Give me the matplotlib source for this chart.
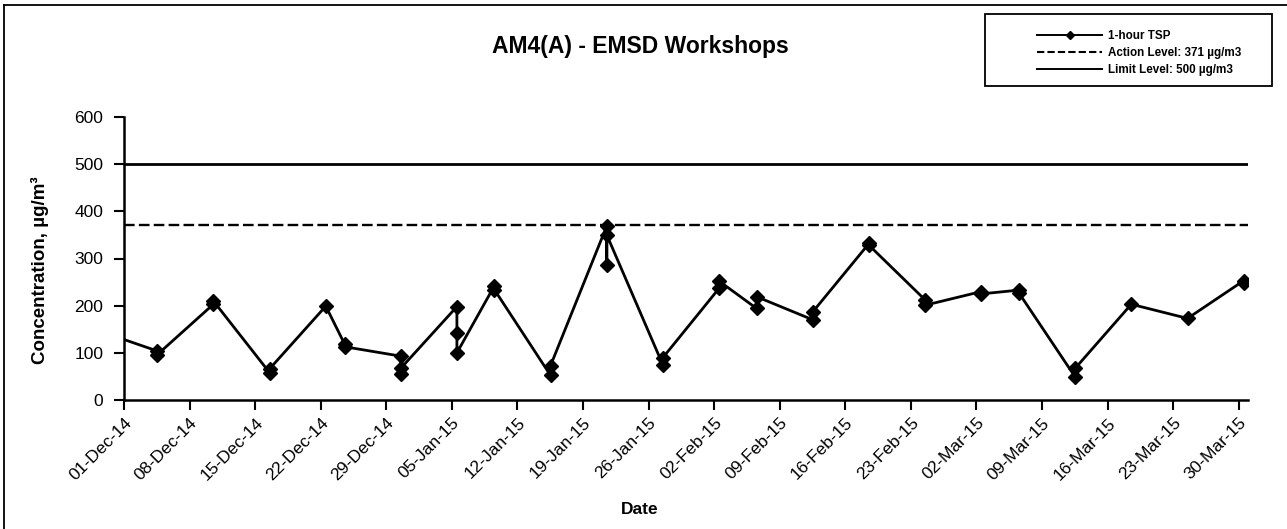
import matplotlib
matplotlib.use("Agg")
import matplotlib.pyplot as plt
import matplotlib.dates as mdates
from matplotlib.lines import Line2D
from matplotlib.patches import Rectangle
import pandas as pd

plt.rcParams['font.family'] = ['Liberation Sans', 'DejaVu Sans']

# ---- data ----
title = "AM4(A) - EMSD Workshops"
x_label = "Date"
y_label = "Concentration, µg/m³"
sampling_times = [
    "2014-11-28 13:00", "2014-12-04 13:00", "2014-12-10 13:00", "2014-12-16 13:00",
    "2014-12-22 13:00", "2014-12-24 13:00", "2014-12-30 13:00", "2015-01-05 13:00",
    "2015-01-09 13:00", "2015-01-15 13:00", "2015-01-21 13:00", "2015-01-27 13:00",
    "2015-02-02 13:00", "2015-02-06 13:00", "2015-02-12 13:00", "2015-02-18 13:00",
    "2015-02-24 13:00", "2015-03-02 13:00", "2015-03-06 13:00", "2015-03-12 13:00",
    "2015-03-18 13:00", "2015-03-24 13:00", "2015-03-30 13:00",
]
tsp_values = [
    [145], [104, 96], [203, 210], [58, 66],
    [199], [119, 113], [93, 55, 67], [198, 143, 100],
    [242, 234], [52, 73], [369, 286, 350], [74, 90],
    [237, 252], [194, 219], [170, 187], [332, 328],
    [212, 201], [230, 225], [233, 227], [49, 67],
    [203], [173], [253, 249],
]
action_level = 371
limit_level = 500
legend_labels = ["1-hour TSP", "Action Level: 371 µg/m3", "Limit Level: 500 µg/m3"]
x_start, x_end = "2014-12-01", "2015-03-31"
tick_dates = pd.date_range("2014-12-01", "2015-03-30", freq="7D")
y_ticks = [0, 100, 200, 300, 400, 500, 600]

# flatten grouped samples
xs, ys = [], []
for t, vals in zip(sampling_times, tsp_values):
    for v in vals:
        xs.append(pd.Timestamp(t))
        ys.append(v)

W, H = 1287, 529
fig = plt.figure(figsize=(W / 100, H / 100), dpi=100)
ax = fig.add_axes([124 / W, 1 - 400 / H, (1248 - 124) / W, (400 - 117) / H])

ax.plot(xs, ys, color="black", lw=2.0, marker="D", ms=7.5, mfc="black", mec="black", clip_on=True, zorder=3)
ax.axhline(action_level, color="black", lw=1.7, ls=(0, (4.5, 1.8)))
ax.axhline(limit_level, color="black", lw=2.0)

ax.set_xlim(pd.Timestamp(x_start), pd.Timestamp(x_end))
ax.set_ylim(0, 600)
ax.set_yticks(y_ticks)
ax.set_xticks(tick_dates)
ax.xaxis.set_major_formatter(mdates.DateFormatter("%d-%b-%y"))
for lab in ax.get_xticklabels():
    lab.set_rotation(45)
    lab.set_ha("right")
    lab.set_rotation_mode("anchor")

ax.tick_params(axis="both", direction="out", length=7, width=1.5, labelsize=12.5, color="black")
ax.tick_params(axis="x", pad=4, labelsize=12.5)
ax.tick_params(axis="y", pad=8, labelsize=12.5)
for s in ["top", "right"]:
    ax.spines[s].set_visible(False)
for s in ["left", "bottom"]:
    ax.spines[s].set_linewidth(1.8)

fig.text(640 / W, 1 - 47 / H, title, ha="center", va="center", fontsize=16.5, fontweight="bold")
fig.text(640 / W, 1 - 510 / H, x_label, ha="center", va="center", fontsize=12.5, fontweight="bold")
fig.text(40 / W, 1 - 270 / H, y_label, ha="center", va="center", rotation=90, fontsize=13.5, fontweight="bold")

# figure frame (left and top)
fig.add_artist(Line2D([4 / W, 4 / W], [0, 1 - 5 / H], transform=fig.transFigure, color="black", lw=1.3))
fig.add_artist(Line2D([4 / W, 1], [1 - 5 / H, 1 - 5 / H], transform=fig.transFigure, color="black", lw=1.3))

# legend box
fig.add_artist(Rectangle((985 / W, 1 - 86 / H), (1272 - 985) / W, (86 - 14) / H,
                         transform=fig.transFigure, fill=False, ec="black", lw=1.3))
handles = [
    Line2D([], [], color="black", lw=1.4, marker="D", ms=4),
    Line2D([], [], color="black", lw=1.5, ls=(0, (3.5, 1.5))),
    Line2D([], [], color="black", lw=1.4),
]
fig.legend(handles, legend_labels, loc="upper left", bbox_to_anchor=(1031 / W, 1 - 24 / H),
           frameon=False, borderpad=0, handlelength=5.6, handletextpad=0.5, labelspacing=0.45,
           prop={"size": 8.4, "weight": "bold"})

fig.savefig("out.png", dpi=100)
